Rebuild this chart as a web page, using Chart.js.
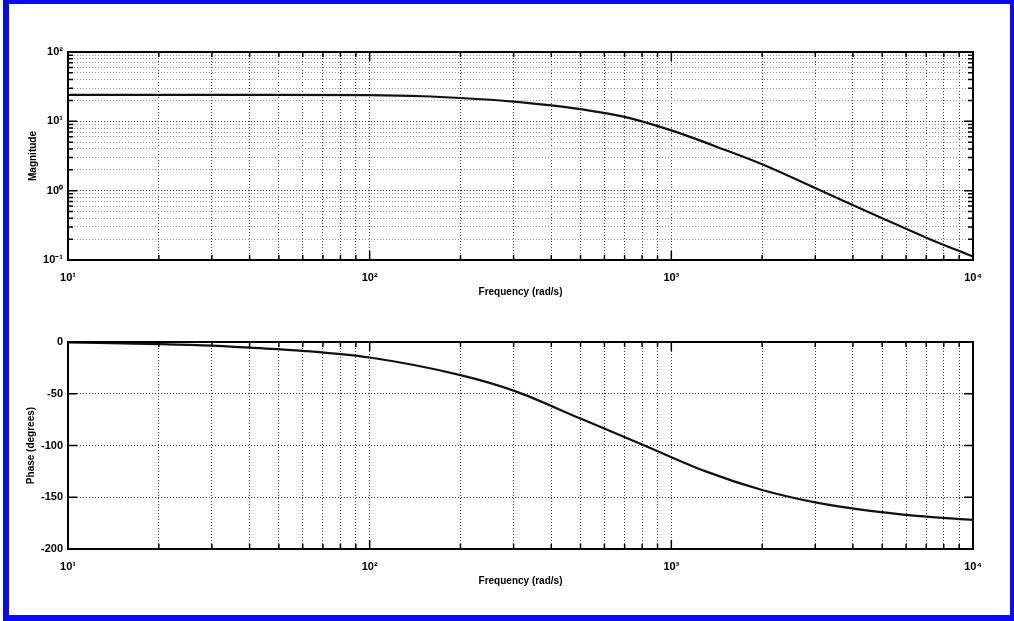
<!DOCTYPE html>
<html>
<head>
<meta charset="utf-8">
<script src="https://cdn.jsdelivr.net/npm/chart.js@4.4.1/dist/chart.umd.min.js"></script>
<style>
  html, body { margin: 0; padding: 0; background: #fff; }
  #frame {
    position: absolute; left: 3px; top: 0; width: 1011px; height: 621px;
    box-sizing: border-box; border-style: solid; border-color: #0a0af5;
    border-width: 4px 4px 6px 6px;
  }
  #mag { position: absolute; left: 0; top: 0; }
  #phase { position: absolute; left: 0; top: 300px; }
</style>
</head>
<body>
<div id="frame"></div>
<canvas id="mag" width="1014" height="300"></canvas>
<canvas id="phase" width="1014" height="321"></canvas>
<script>
// Frequency response: magnitude (log-log) and phase (semilog)
const freqMag = [10, 20, 50, 100, 150, 200, 300, 400, 500, 700, 1000, 1500, 2000, 3000, 5000, 7000, 10000];
const magnitude = [24.0, 24.0, 24.0, 23.8, 23.0, 21.7, 19.3, 17.0, 15.0, 11.6, 7.4, 3.9, 2.4, 1.09, 0.40, 0.21, 0.112];

const freqPhase = [10, 20, 30, 40, 60, 100, 200, 300, 500, 800, 1300, 2000, 3000, 4500, 6500, 10000];
const phase = [-0.5, -2, -3.5, -5.5, -8.5, -15, -32, -47, -74, -99, -125, -143, -155, -163, -168, -172];

const freqDecades = [10, 100, 1000, 10000];
const freqTickLabels = ['10¹', '10²', '10³', '10⁴'];
const magDecades = [0.1, 1, 10, 100];
const magTickLabels = ['10⁻¹', '10⁰', '10¹', '10²'];
const phaseTicks = [0, -50, -100, -150, -200];

const tickFont = { family: "'Liberation Sans', Arial, sans-serif", size: 11, weight: 'bold' };
const titleFont = { family: "'Liberation Sans', Arial, sans-serif", size: 10, weight: 'bold' };

function isDecade(v) {
  const l = Math.log10(v);
  return Math.abs(l - Math.round(l)) < 1e-6;
}

// 1..9 multiples of every decade between min and max
function logTicks(min, max) {
  const out = [];
  for (let d = min; d < max * 0.999; d *= 10) {
    for (let k = 1; k < 10; k++) out.push(+(d * k).toPrecision(6));
  }
  out.push(max);
  return out;
}

function decadeLabel(values, labels) {
  return (v) => {
    const i = values.findIndex(d => Math.abs(d - v) / d < 1e-6);
    return i >= 0 ? labels[i] : '';
  };
}

// inward tick marks on all four sides plus the axes box
const boxTicks = {
  id: 'boxTicks',
  afterDraw(chart) {
    const { ctx, chartArea: a } = chart;
    const xs = chart.scales.x, ys = chart.scales.y;
    ctx.save();
    ctx.strokeStyle = '#000';
    ctx.lineWidth = 1.5;
    ctx.beginPath();
    xs.ticks.forEach(t => {
      const p = xs.getPixelForValue(t.value);
      const len = isDecade(t.value) ? 9 : 5;
      ctx.moveTo(p, a.bottom); ctx.lineTo(p, a.bottom - len);
      ctx.moveTo(p, a.top); ctx.lineTo(p, a.top + len);
    });
    const yLog = ys.type === 'logarithmic';
    ys.ticks.forEach(t => {
      const p = ys.getPixelForValue(t.value);
      const len = (!yLog || isDecade(t.value)) ? 9 : 5;
      ctx.moveTo(a.left, p); ctx.lineTo(a.left + len, p);
      ctx.moveTo(a.right, p); ctx.lineTo(a.right - len, p);
    });
    ctx.stroke();
    ctx.lineWidth = 2;
    ctx.strokeRect(a.left, a.top, a.right - a.left, a.bottom - a.top);
    ctx.restore();
  }
};

function freqScale(axisHeight, titleGap) {
  return {
    type: 'logarithmic',
    min: 10,
    max: 10000,
    afterBuildTicks: s => { s.ticks = logTicks(10, 10000).map(v => ({ value: v })); },
    afterFit: s => { s.height = axisHeight; },
    ticks: {
      autoSkip: false, maxRotation: 0, minRotation: 0, padding: 11,
      color: '#000', font: tickFont,
      callback: decadeLabel(freqDecades, freqTickLabels)
    },
    grid: { drawTicks: false, color: '#3c3c3c', lineWidth: 1 },
    border: { display: false, dash: [1, 2] },
    title: {
      display: true, text: 'Frequency (rad/s)', color: '#000', font: titleFont,
      padding: { top: 0, bottom: titleGap }
    }
  };
}

function lineDataset(xs, ys) {
  return {
    data: xs.map((x, i) => ({ x: x, y: ys[i] })),
    borderColor: '#111',
    borderWidth: 2.2,
    pointRadius: 0,
    fill: false,
    cubicInterpolationMode: 'monotone'
  };
}

const common = {
  responsive: false,
  animation: false,
  devicePixelRatio: 1,
  events: [],
  plugins: { legend: { display: false }, tooltip: { enabled: false } }
};

new Chart(document.getElementById('mag'), {
  type: 'line',
  data: { datasets: [lineDataset(freqMag, magnitude)] },
  plugins: [boxTicks],
  options: Object.assign({}, common, {
    layout: { padding: { left: 0, top: 52, right: 41, bottom: 0 } },
    scales: {
      x: freqScale(40, 2),
      y: {
        type: 'logarithmic',
        min: 0.1,
        max: 100,
        afterBuildTicks: s => { s.ticks = logTicks(0.1, 100).map(v => ({ value: v })); },
        afterFit: s => { s.width = 68; },
        ticks: {
          autoSkip: false, padding: 5, color: '#000', font: tickFont,
          callback: decadeLabel(magDecades, magTickLabels)
        },
        grid: {
          drawTicks: false, lineWidth: 1,
          color: c => (c.tick && isDecade(c.tick.value)) ? '#3c3c3c' : '#959595'
        },
        border: { display: false, dash: [1, 2] },
        title: {
          display: true, text: 'Magnitude', color: '#000', font: titleFont,
          padding: { top: 27, bottom: 0 }
        }
      }
    }
  })
});

new Chart(document.getElementById('phase'), {
  type: 'line',
  data: { datasets: [lineDataset(freqPhase, phase)] },
  plugins: [boxTicks],
  options: Object.assign({}, common, {
    layout: { padding: { left: 0, top: 42, right: 41, bottom: 0 } },
    scales: {
      x: freqScale(72, 34),
      y: {
        type: 'linear',
        min: -200,
        max: 0,
        afterBuildTicks: s => { s.ticks = phaseTicks.map(v => ({ value: v })); },
        afterFit: s => { s.width = 68; },
        ticks: {
          autoSkip: false, padding: 5, color: '#000', font: tickFont,
          callback: v => String(v)
        },
        grid: { drawTicks: false, lineWidth: 1, color: '#3c3c3c' },
        border: { display: false, dash: [1, 2] },
        title: {
          display: true, text: 'Phase (degrees)', color: '#000', font: titleFont,
          padding: { top: 25, bottom: 0 }
        }
      }
    }
  })
});
</script>
</body>
</html>
